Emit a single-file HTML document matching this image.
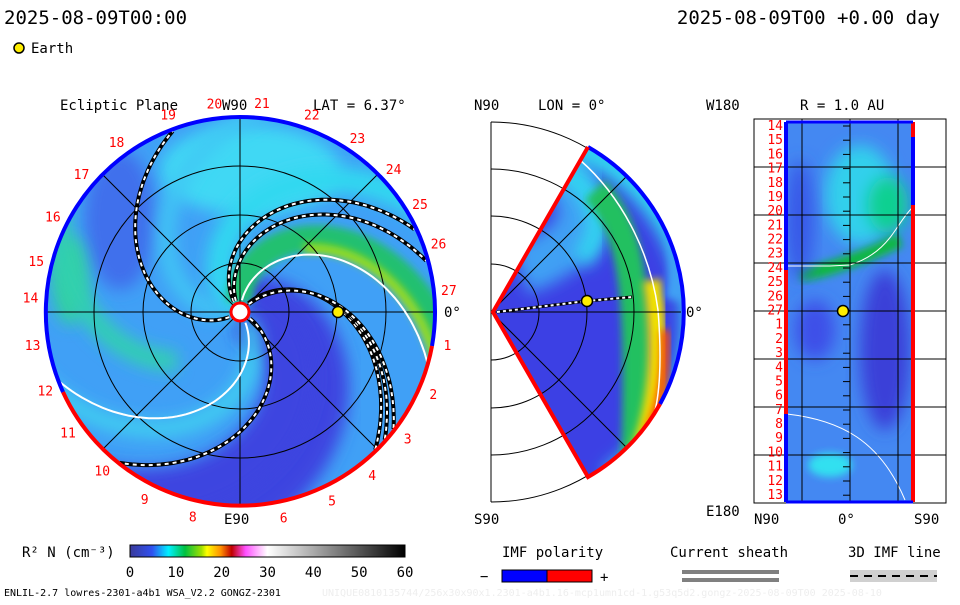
<!DOCTYPE html>
<html><head><meta charset="utf-8"><style>
body{margin:0;background:#fff;}
svg text{font-family:"DejaVu Sans Mono","Liberation Mono",monospace;}
</style></head><body>
<svg id="s" width="960" height="600" viewBox="0 0 960 600">
<defs>
<filter id="bl" x="-30%" y="-30%" width="160%" height="160%"><feGaussianBlur stdDeviation="8"/></filter>
<filter id="bl2" x="-30%" y="-30%" width="160%" height="160%"><feGaussianBlur stdDeviation="4"/></filter>
<clipPath id="cL"><circle cx="240" cy="312" r="195"/></clipPath>
<clipPath id="cM"><path d="M493,312 L588,147 A190,190 0 0 1 588,477 Z"/></clipPath>
<clipPath id="cR"><rect x="785" y="122" width="130" height="380"/></clipPath>
<linearGradient id="cb" x1="0" x2="1">
<stop offset="0" stop-color="#3a3a9a"/><stop offset="0.08" stop-color="#3050f0"/><stop offset="0.14" stop-color="#00f0ff"/><stop offset="0.2" stop-color="#00c040"/><stop offset="0.26" stop-color="#a0e000"/><stop offset="0.28" stop-color="#ffff00"/><stop offset="0.33" stop-color="#ff9000"/><stop offset="0.37" stop-color="#c00000"/><stop offset="0.42" stop-color="#ff50ff"/><stop offset="0.5" stop-color="#ffffff"/><stop offset="1" stop-color="#000000"/>
</linearGradient>
</defs>
<text x="4" y="24" font-size="19">2025-08-09T00:00</text>
<text x="940" y="24" font-size="19" text-anchor="end">2025-08-09T00 +0.00 day</text>
<circle cx="19" cy="48" r="5" fill="#ffee00" stroke="#000" stroke-width="1.5"/>
<text x="31" y="53" font-size="14">Earth</text>

<g id="left">
<circle cx="240" cy="312" r="195" fill="#40a0f6"/>
<g clip-path="url(#cL)" id="lbands">
<ellipse cx="250" cy="170" rx="90" ry="45" fill="#40d8f4" filter="url(#bl)"/>
<ellipse cx="120" cy="220" rx="35" ry="70" fill="#4070ec" filter="url(#bl)"/>
<ellipse cx="70" cy="280" rx="18" ry="45" fill="#30d0a0" filter="url(#bl)"/>
</g>
<g id="lgrid" stroke="#000" stroke-width="1" fill="none"></g>
<g id="lspir"></g>
<path d="M240,117 A195,195 0 0 1 432,346" fill="none" stroke="#0000ff" stroke-width="4"/>
<path d="M432,346 A195,195 0 0 1 63,392" fill="none" stroke="#ff0000" stroke-width="4"/>
<path d="M63,392 A195,195 0 0 1 240,117" fill="none" stroke="#0000ff" stroke-width="4"/>
<circle cx="240" cy="312" r="9" fill="#fff" stroke="#f00" stroke-width="3"/>
<circle cx="338" cy="312" r="5.5" fill="#ffee00" stroke="#000" stroke-width="1.5"/>
<text x="60" y="110" font-size="14">Ecliptic Plane</text>
<text x="222" y="110" font-size="14">W90</text>
<text x="313" y="110" font-size="14">LAT = 6.37°</text>
<text x="224" y="524" font-size="14">E90</text>
<text x="444" y="317" font-size="14">0°</text>
<g id="llab" fill="#f00" font-size="13" text-anchor="middle"></g>
</g>

<g id="mid">
<g id="mgrid" stroke="#000" stroke-width="1" fill="none"></g>
<path d="M493,312 L588,147 A190,190 0 0 1 588,477 Z" fill="#3c40e4"/>
<g clip-path="url(#cM)" id="mbands"></g>
<g id="mgrid2" stroke="#000" stroke-width="1" fill="none"></g>
<path d="M588,147 A190,190 0 0 1 660,404" fill="none" stroke="#00f" stroke-width="4"/>
<path d="M660,404 A190,190 0 0 1 588,477 L493,312 L588,147" fill="none" stroke="#f00" stroke-width="4"/>
<path d="M497,312 L587,301 L632,297" fill="none" stroke="#000" stroke-width="3"/>
<path d="M497,312 L587,301 L632,297" fill="none" stroke="#fff" stroke-width="2" stroke-dasharray="3 3"/>
<circle cx="587" cy="301" r="5.5" fill="#ffee00" stroke="#000" stroke-width="1.5"/>
<text x="474" y="110" font-size="14">N90</text>
<text x="538" y="110" font-size="14">LON = 0°</text>
<text x="474" y="524" font-size="14">S90</text>
<text x="686" y="317" font-size="14">0°</text>
</g>

<g id="right">
<rect x="754" y="119" width="192" height="384" fill="#fff" stroke="#000"/>
<rect x="785" y="122" width="130" height="380" fill="#4488f2"/>
<g clip-path="url(#cR)">
<ellipse cx="860" cy="195" rx="35" ry="50" fill="#30d0ec" filter="url(#bl)"/>
<ellipse cx="888" cy="205" rx="20" ry="28" fill="#10d090" filter="url(#bl)"/>
<path d="M800,275 C830,270 870,255 900,240" stroke="#10b840" stroke-width="14" fill="none" filter="url(#bl2)"/>
<ellipse cx="800" cy="220" rx="14" ry="60" fill="#3858e8" filter="url(#bl)"/>
<ellipse cx="830" cy="465" rx="22" ry="12" fill="#30e0f0" filter="url(#bl2)"/>
<ellipse cx="885" cy="350" rx="25" ry="80" fill="#3a40d8" filter="url(#bl)"/>
<ellipse cx="815" cy="330" rx="20" ry="30" fill="#3c50e8" filter="url(#bl)"/>
<path d="M787,266 L830,266 L850,265 C890,252 895,225 912,208" stroke="#fff" fill="none"/>
<path d="M787,414 C840,420 880,440 905,500" stroke="#fff" fill="none"/>
</g>
<g id="rgrid" stroke="#000" stroke-width="1"></g>
<line x1="786" y1="122" x2="786" y2="502" stroke="#00f" stroke-width="4"/>
<line x1="786" y1="270" x2="786" y2="414" stroke="#f00" stroke-width="4"/>
<line x1="913" y1="122" x2="913" y2="502" stroke="#f00" stroke-width="4"/>
<line x1="913" y1="137" x2="913" y2="205" stroke="#00f" stroke-width="4"/>
<line x1="786" y1="122" x2="913" y2="122" stroke="#00f" stroke-width="3"/>
<line x1="786" y1="502" x2="913" y2="502" stroke="#00f" stroke-width="3"/>
<circle cx="843" cy="311" r="5.5" fill="#ffee00" stroke="#000" stroke-width="1.5"/>
<text x="706" y="110" font-size="14">W180</text>
<text x="800" y="110" font-size="14">R = 1.0 AU</text>
<text x="706" y="516" font-size="14">E180</text>
<text x="754" y="524" font-size="14">N90</text>
<text x="838" y="524" font-size="14">0°</text>
<text x="914" y="524" font-size="14">S90</text>
<g id="rlab" fill="#f00" font-size="13" text-anchor="end"></g>
</g>

<g>
<text x="22" y="557" font-size="14">R² N (cm⁻³)</text>
<rect x="130" y="545" width="275" height="12" fill="url(#cb)" stroke="#000"/>
<g id="cbt" font-size="14" text-anchor="middle"></g>
</g>
<g>
<text x="502" y="557" font-size="14">IMF polarity</text>
<text x="480" y="581" font-size="14">−</text>
<rect x="502" y="570" width="45" height="12" fill="#00f" stroke="#000"/>
<rect x="547" y="570" width="45" height="12" fill="#f00" stroke="#000"/>
<text x="600" y="582" font-size="14">+</text>
</g>
<g>
<text x="670" y="557" font-size="14">Current sheath</text>
<rect x="682" y="570" width="97" height="4" fill="#808080"/>
<rect x="682" y="578" width="97" height="4" fill="#808080"/>
</g>
<g>
<text x="848" y="557" font-size="14">3D IMF line</text>
<rect x="850" y="570" width="87" height="12" fill="#d0d0d0"/>
<line x1="850" y1="576" x2="937" y2="576" stroke="#000" stroke-width="2" stroke-dasharray="8 6"/>
</g>
<text x="4" y="596" font-size="10">ENLIL-2.7 lowres-2301-a4b1 WSA_V2.2 GONGZ-2301</text>
<text x="322" y="596" font-size="10" fill="#eee">UNIQUE0810135744/256x30x90x1.2301-a4b1.16-mcp1umn1cd-1.g53q5d2.gongz-2025-08-09T00 2025-08-10</text>
</svg>
<script>
const NS='http://www.w3.org/2000/svg';
const carrLabels=['19','20','21','22','23','24','25','26','27','1','2','3','4','5','6','8','9','10','11','12','13','14','15','16','17','18'];
const carrAngles=[110,97,84,70,56,43,31,19,6,-9,-23,-37,-51,-64,-78,-103,-117,-131,-145,-158,-171,-184,-194,-207,-221,-234];
// IMF field lines: angle at the sun and at the outer boundary (deg)
const imfStart=[212,127,117,52,50,47,-27];
const imfEnd=[112,27,17,-44,-40,-36,-127];
// current sheath lines
const hcsStart=[87,-57];
const hcsEnd=[-13,-157];
const radLabels=['14','15','16','17','18','19','20','21','22','23','24','25','26','27','1','2','3','4','5','6','7','8','9','10','11','12','13'];
const cbTicks=[0,10,20,30,40,50,60];
function mk(p,t,a){const e=document.createElementNS(NS,t);for(const k in a)e.setAttribute(k,a[k]);p.appendChild(e);return e;}
const cx=240,cy=312,R=195;
function spiral(a0,a1,r0,r1){let d='';const n=60;for(let i=0;i<=n;i++){const r=r0+(r1-r0)*i/n;const t=(a0+(a1-a0)*r/190)*Math.PI/180;d+=(i?'L':'M')+(cx+r*Math.cos(t)).toFixed(1)+','+(cy-r*Math.sin(t)).toFixed(1);}return d;}
const lb=document.getElementById('lbands');
mk(lb,'path',{d:spiral(10,-90,0,230),stroke:'#3c44e0','stroke-width':70,fill:'none',filter:'url(#bl)'});
mk(lb,'path',{d:spiral(-10,-110,0,230),stroke:'#3c44e0','stroke-width':50,fill:'none',filter:'url(#bl)'});
mk(lb,'path',{d:spiral(140,40,0,230),stroke:'#30d8f0','stroke-width':26,fill:'none',filter:'url(#bl)'});
mk(lb,'path',{d:spiral(100,0,10,230),stroke:'#20c070','stroke-width':26,fill:'none',filter:'url(#bl2)'});
mk(lb,'path',{d:spiral(92,-8,90,230),stroke:'#a0e010','stroke-width':9,fill:'none',filter:'url(#bl2)'});
mk(lb,'path',{d:spiral(-50,-150,10,230),stroke:'#40d0f0','stroke-width':16,fill:'none',filter:'url(#bl)'});
mk(lb,'path',{d:spiral(190,90,20,230),stroke:'#40c8f4','stroke-width':16,fill:'none',filter:'url(#bl)'});
mk(lb,'path',{d:spiral(260,160,80,230),stroke:'#30d0b0','stroke-width':20,fill:'none',filter:'url(#bl)'});
const lg=document.getElementById('lgrid');
[49,97,146].forEach(r=>mk(lg,'circle',{cx,cy,r}));
for(let a=0;a<180;a+=45){const t=a*Math.PI/180;mk(lg,'line',{x1:cx-R*Math.cos(t),y1:cy-R*Math.sin(t),x2:cx+R*Math.cos(t),y2:cy+R*Math.sin(t)});}
const ls=document.getElementById('lspir');
hcsStart.forEach((a,i)=>{const p=mk(ls,'path',{d:spiral(a,hcsEnd[i],12,195),stroke:'#fff','stroke-width':2,fill:'none'});
 });
imfStart.forEach((a,i)=>{const d=spiral(a,imfEnd[i],12,193);
 const p1=mk(ls,'path',{d,stroke:'#000','stroke-width':4,fill:'none'});
 
 mk(ls,'path',{d,stroke:'#fff','stroke-width':2,fill:'none','stroke-dasharray':'4 4'});});
const ll=document.getElementById('llab');
carrLabels.forEach((l,i)=>{const t=carrAngles[i]*Math.PI/180;const e=mk(ll,'text',{x:cx+210*Math.cos(t),y:cy-210*Math.sin(t)+5});e.textContent=l;
 });
// middle
const mx=491,my=312;
const mg=document.getElementById('mgrid');
mk(mg,'line',{x1:mx,y1:my-190,x2:mx,y2:my+190});
[48,96,143,190].forEach(r=>mk(mg,'path',{d:`M${mx},${my-r} A${r},${r} 0 0 1 ${mx},${my+r}`}));
const mb=document.getElementById('mbands');
mk(mb,'path',{d:'M540,150 C600,200 600,240 520,270',stroke:'#40a0f4','stroke-width':50,fill:'none',filter:'url(#bl)'});
mk(mb,'path',{d:'M550,160 C600,190 610,230 580,260',stroke:'#30d8f0','stroke-width':20,fill:'none',filter:'url(#bl)'});
mk(mb,'path',{d:'M560,140 A190,190 0 0 1 610,480',stroke:'#30d8f0','stroke-width':26,fill:'none',filter:'url(#bl)'});
mk(mb,'path',{d:'M595,190 C635,230 640,300 635,470',stroke:'#20c060','stroke-width':28,fill:'none',filter:'url(#bl2)'});
mk(mb,'path',{d:'M652,280 C662,350 658,420 630,470',stroke:'#f0e000','stroke-width':18,fill:'none',filter:'url(#bl2)'});
mk(mb,'path',{d:'M665,330 C666,380 660,410 645,440',stroke:'#ff5000','stroke-width':9,fill:'none',filter:'url(#bl2)'});
mk(mb,'path',{d:'M660,180 A190,190 0 0 1 675,300',stroke:'#40a0f4','stroke-width':20,fill:'none',filter:'url(#bl2)'});
mk(mb,'path',{d:'M580,160 C620,195 650,250 658,310 C662,360 660,400 652,420',stroke:'#fff','stroke-width':1.5,fill:'none'});
const mg2=document.getElementById('mgrid2');
[48,96,143].forEach(r=>mk(mg2,'path',{d:`M${mx+r*0.5},${my-r*0.866} A${r},${r} 0 0 1 ${mx+r*0.5},${my+r*0.866}`}));
[45,-45].forEach(a=>{const t=a*Math.PI/180;mk(mg2,'line',{x1:mx,y1:my,x2:mx+190*Math.cos(t),y2:my-190*Math.sin(t)});});
mk(mg2,'line',{x1:mx,y1:my,x2:mx+190,y2:my});
// right
const rg=document.getElementById('rgrid');
[167,215,263,311,359,407,455].forEach(y=>mk(rg,'line',{x1:754,y1:y,x2:946,y2:y}));
[802,850,898].forEach(x=>mk(rg,'line',{x1:x,y1:119,x2:x,y2:503}));
for(let y=126;y<500;y+=14.2)mk(rg,'line',{x1:843,y1:y,x2:850,y2:y});
const rl=document.getElementById('rlab');
radLabels.forEach((l,i)=>{const y=125+i*(369/26);const e=mk(rl,'text',{x:783,y:y+5});e.textContent=l;
 });
const cb=document.getElementById('cbt');
cbTicks.forEach(v=>{const e=mk(cb,'text',{x:130+v/60*275,y:577});e.textContent=v;
 });
</script>
</body></html>
